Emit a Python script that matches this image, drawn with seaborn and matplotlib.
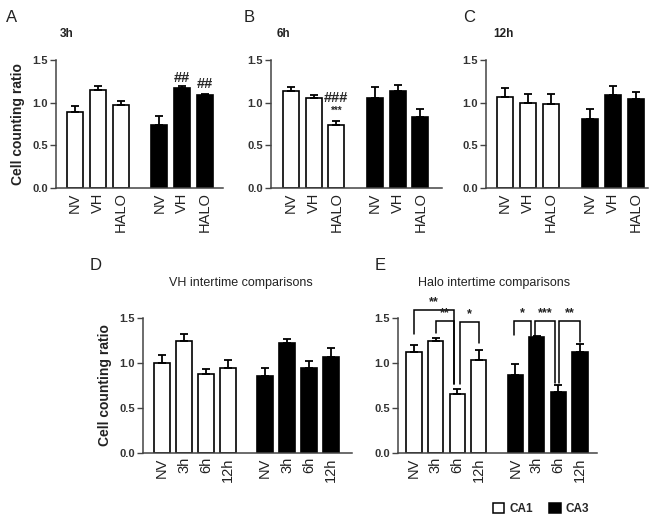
import numpy as np
import pandas as pd
import seaborn as sns
import matplotlib.pyplot as plt
from matplotlib.patches import Patch

# --- data ---
regions = ['CA1', 'CA3']
treat_labels = ['NV', 'VH', 'HALO']
time_labels = ['NV', '3h', '6h', '12h']

a_ca1 = [0.89, 1.15, 0.97]
a_ca1_err = [0.075, 0.05, 0.045]
a_ca3 = [0.74, 1.17, 1.09]
a_ca3_err = [0.10, 0.03, 0.015]

b_ca1 = [1.14, 1.06, 0.74]
b_ca1_err = [0.04, 0.03, 0.05]
b_ca3 = [1.06, 1.14, 0.83]
b_ca3_err = [0.12, 0.07, 0.09]

c_ca1 = [1.07, 1.00, 0.98]
c_ca1_err = [0.10, 0.10, 0.12]
c_ca3 = [0.81, 1.09, 1.04]
c_ca3_err = [0.11, 0.10, 0.08]

d_ca1 = [1.00, 1.24, 0.88, 0.94]
d_ca1_err = [0.09, 0.08, 0.05, 0.09]
d_ca3 = [0.86, 1.22, 0.94, 1.07]
d_ca3_err = [0.09, 0.05, 0.08, 0.10]

e_ca1 = [1.12, 1.24, 0.66, 1.03]
e_ca1_err = [0.08, 0.04, 0.05, 0.12]
e_ca3 = [0.87, 1.29, 0.68, 1.12]
e_ca3_err = [0.12, 0.01, 0.08, 0.09]

# significance brackets for panel E: (bar i, bar j, bracket height, leg bottom i, leg bottom j, stars)
e_brackets = [
    (0, 2, 1.59, 1.32, 0.77, '**'),
    (1, 2, 1.47, 1.33, 0.77, '**'),
    (2, 3, 1.46, 0.77, 1.22, '*'),
    (4, 5, 1.47, 1.31, 1.30, '*'),
    (5, 6, 1.47, 1.30, 0.78, '***'),
    (6, 7, 1.47, 0.78, 1.23, '**'),
]
leg_shift = [(0.0, -0.15), (0.0, -0.15), (0.15, 0.0), (-0.05, -0.25), (-0.1, -0.15), (0.05, 0.0)]

GAP = 0.7
sns.set_theme(style="ticks")
plt.rcParams['font.family'] = ['Liberation Sans', 'DejaVu Sans']

fig = plt.figure(figsize=(6.53, 5.17), dpi=100)


def panel(rect, ca1, ca1_err, ca3, ca3_err, labels, xlim, ylabel=False):
    ax = fig.add_axes(rect)
    n = len(labels)
    pos = [i for i in range(n)] + [n + GAP + i for i in range(n)]
    df = pd.DataFrame({
        'pos': pos,
        'value': list(ca1) + list(ca3),
        'err': list(ca1_err) + list(ca3_err),
        'region': ['CA1'] * n + ['CA3'] * n,
    })
    sns.barplot(data=df, x='pos', y='value', hue='region', native_scale=True,
                dodge=False, width=0.7, palette={'CA1': 'white', 'CA3': 'black'},
                edgecolor='black', linewidth=1.2, legend=False, ax=ax)
    ax.errorbar(df['pos'], df['value'], yerr=[np.zeros(len(df)), df['err']],
                fmt='none', ecolor='black', elinewidth=1.3, capsize=3, capthick=1.3)
    ax.set_xlim(*xlim)
    ax.set_ylim(0, 1.5)
    ax.set_yticks([0, 0.5, 1.0, 1.5])
    ax.set_yticklabels(['0.0', '0.5', '1.0', '1.5'], fontsize=8,
                       fontweight='bold', color='#333333')
    ax.set_xticks(pos)
    ax.set_xticklabels(labels * 2, rotation=90, fontsize=10.5, color='#222222')
    ax.tick_params(axis='x', length=0, pad=3)
    ax.tick_params(axis='y', length=4, width=1, color='#444444', pad=2)
    for s in ['top', 'right']:
        ax.spines[s].set_visible(False)
    for s in ['left', 'bottom']:
        ax.spines[s].set_color('#444444')
        ax.spines[s].set_linewidth(1.1)
    ax.set_xlabel('')
    if ylabel:
        ax.set_ylabel('Cell counting ratio', fontsize=10, fontweight='bold',
                      color='#222222', labelpad=5)
    else:
        ax.set_ylabel('')
    return ax, pos


W, H = 653, 517


def rect(left, right, top, bottom):
    return [left / W, 1 - bottom / H, (right - left) / W, (bottom - top) / H]


ax_a, pa = panel(rect(56, 223, 60, 188), a_ca1, a_ca1_err, a_ca3, a_ca3_err,
                 treat_labels, (-0.83, 6.49), ylabel=True)
ax_b, pb = panel(rect(271, 442, 60, 188), b_ca1, b_ca1_err, b_ca3, b_ca3_err,
                 treat_labels, (-0.88, 6.65))
ax_c, pc = panel(rect(486, 648, 60, 188), c_ca1, c_ca1_err, c_ca3, c_ca3_err,
                 treat_labels, (-0.83, 6.22))
ax_d, pd_ = panel(rect(143, 352, 318, 453), d_ca1, d_ca1_err, d_ca3, d_ca3_err,
                  time_labels, (-0.87, 8.66), ylabel=True)
ax_e, pe = panel(rect(398, 597, 318, 453), e_ca1, e_ca1_err, e_ca3, e_ca3_err,
                 time_labels, (-0.74, 8.49))

# significance marks in A and B
ax_a.text(pa[4], 1.29, '##', ha='center', va='center', fontsize=10.5, fontweight='bold')
ax_a.text(pa[5], 1.22, '##', ha='center', va='center', fontsize=10.5, fontweight='bold')
ax_b.text(pb[2], 1.055, '###', ha='center', va='center', fontsize=10.5, fontweight='bold')
ax_b.text(pb[2], 0.90, '***', ha='center', va='center', fontsize=7, fontweight='bold')

# brackets in E
for (i, j, yb, li, lj, txt), (si, sj) in zip(e_brackets, leg_shift):
    xi, xj = pe[i] + si, pe[j] + sj
    ax_e.plot([xi, xi, xj, xj], [li, yb, yb, lj], color='black', lw=1.1,
              clip_on=False, solid_joinstyle='miter')
    ax_e.text((xi + xj) / 2, yb + 0.015, txt, ha='center', va='bottom',
              fontsize=9, fontweight='bold', color='#222222')

# panel titles
fig.text(60 / W, 1 - 34 / H, '3h', fontsize=8.5, fontweight='bold', va='center', color='#222222')
fig.text(277 / W, 1 - 34 / H, '6h', fontsize=8.5, fontweight='bold', va='center', color='#222222')
fig.text(493 / W, 1 - 34 / H, '12h', fontsize=8.5, fontweight='bold', va='center', color='#222222')
fig.text(241 / W, 1 - 283 / H, 'VH intertime comparisons', fontsize=9, ha='center',
         va='center', color='#222222')
fig.text(494 / W, 1 - 283 / H, 'Halo intertime comparisons', fontsize=9, ha='center',
         va='center', color='#222222')

# panel letters
for letter, x, y in [('A', 6, 17), ('B', 244, 17), ('C', 463, 17), ('D', 90, 266), ('E', 375, 266)]:
    fig.text(x / W, 1 - y / H, letter, fontsize=12, va='center', color='#222222')

# legend
handles = [Patch(facecolor='white', edgecolor='black', linewidth=1.1, label='CA1'),
           Patch(facecolor='black', edgecolor='black', linewidth=1.1, label='CA3')]
leg = fig.legend(handles=handles, loc='center', bbox_to_anchor=(541 / W, 1 - 509 / H),
                 ncol=2, frameon=False, fontsize=8.5, handlelength=1.0, handleheight=1.0,
                 handletextpad=0.4, columnspacing=1.4, borderpad=0)
for t in leg.get_texts():
    t.set_fontweight('bold')

fig.savefig('out.png', dpi=100)
